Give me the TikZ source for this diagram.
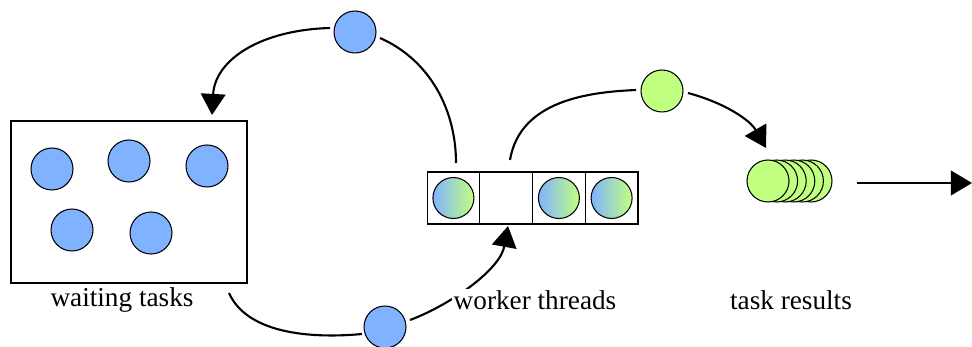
\documentclass[tikz,border=0pt]{standalone}
\usepackage{fontspec}
\setmainfont{Liberation Serif}
\usetikzlibrary{arrows.meta}

\definecolor{taskblue}{HTML}{80B3FF}
\definecolor{resultgreen}{HTML}{C1FF80}

\begin{document}
\begin{tikzpicture}[x=0.02cm, y=-0.02cm,
    ball/.style={circle, draw, line width=0.6pt, minimum size=0.84cm, inner sep=0pt},
    taskball/.style={ball, fill=taskblue},
    resultball/.style={ball, fill=resultgreen},
    mixball/.style={ball, left color=taskblue, right color=resultgreen, minimum size=0.82cm},
    slot/.style={draw, line width=0.6pt, minimum width=1.055cm, minimum height=1.04cm, inner sep=0pt},
    flow/.style={line width=1.2pt, -{Triangle[length=12pt, width=14pt]}},
    caption/.style={font=\fontsize{15.5}{18}\selectfont}]

    \useasboundingbox (0,0) rectangle (972,347);

    % Waiting tasks
    \node[draw, line width=0.6pt, minimum width=4.72cm, minimum height=3.24cm, inner sep=0pt] (queue) at (129,202) {};
    \node[taskball] (t1) at (52,169) {};
    \node[taskball] (t2) at (129,161) {};
    \node[taskball] (t3) at (207,166) {};
    \node[taskball] (t4) at (72,230) {};
    \node[taskball] (t5) at (151,233) {};
    \node[caption] (queuelabel) at (122,300) {waiting tasks};

    % Worker threads
    \node[slot] (w1) at (453.4,198) {};
    \node[slot] (w2) at (506.1,198) {};
    \node[slot] (w3) at (558.9,198) {};
    \node[slot] (w4) at (611.6,198) {};
    \node[mixball] (m1) at (w1) {};
    \node[mixball] (m3) at (w3) {};
    \node[mixball] (m4) at (w4) {};

    % Task results
    \foreach \i in {5,...,0}
        \node[resultball] (res\i) at (768+8.6*\i,181) {};
    \node[caption] (reslabel) at (791,300) {task results};

    % Travelling tasks
    \node[taskball] (back) at (355,32) {};
    \node[taskball] (next) at (385,327) {};
    \node[resultball] (done) at (662,91) {};

    % Curve ends
    \coordinate (backin) at (380,38);
    \coordinate (backout) at (330,28);
    \coordinate (queuein) at (212,115);
    \coordinate (queueout) at (229,293);
    \coordinate (nextin) at (362,334);
    \coordinate (nextout) at (410,320);
    \coordinate (w2in) at (508,226);
    \coordinate (w1out) at (456,163);
    \coordinate (w2out) at (510,160);
    \coordinate (donein) at (636,90);
    \coordinate (doneout) at (688,93);
    \coordinate (resin) at (766,148);
    \coordinate (resout) at (857,183);
    \coordinate (exit) at (972,183);

    % Arrows
    \draw[line width=1.2pt] (w1out) .. controls (456,110) and (430,60) .. (backin);
    \draw[flow] (backout) .. controls (260,30) and (215,60) .. (queuein);
    \draw[line width=1.2pt] (queueout) .. controls (250,340) and (330,337) .. (nextin);
    \draw[flow] (nextout) .. controls (450,305) and (500,270) .. (w2in);
    \draw[line width=1.2pt] (w2out) .. controls (520,100) and (590,92) .. (donein);
    \draw[flow] (doneout) .. controls (725,103) and (750,120) .. (resin);
    \draw[flow] (resout) -- (exit);

    \node[caption, fill=white, inner sep=1pt] (workerlabel) at (535,300) {worker threads};
\end{tikzpicture}
\end{document}
